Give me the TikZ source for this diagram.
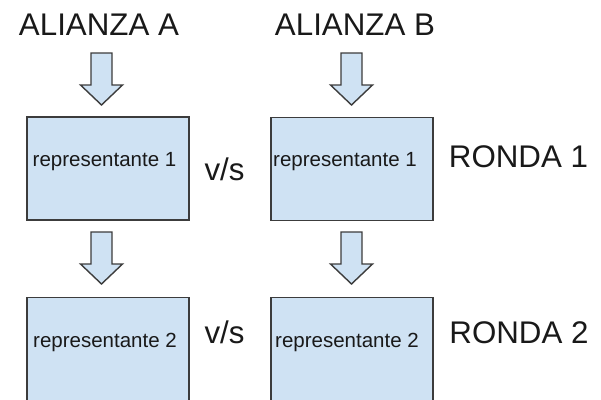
\documentclass[tikz,border=0pt]{standalone}
\usepackage{fontspec}
\setmainfont{Liberation Sans}
\definecolor{boxblue}{HTML}{CFE2F3}
\definecolor{edgegray}{HTML}{3C3C3C}
\tikzset{
  repbox/.style={draw=edgegray, fill=boxblue, line width=1.4pt, minimum width=162pt, minimum height=103pt, inner sep=0pt},
  reptext/.style={font=\fontsize{20.5}{24}\selectfont, text=black!90, inner sep=0pt},
  bigtext/.style={font=\fontsize{31.3}{36}\selectfont, text=black!90, inner sep=0pt, anchor=base},
  downarrow/.pic={
    \filldraw[draw=edgegray, fill=boxblue, line width=1.4pt, line join=miter]
      (-10.5,0) -- (10.5,0) -- (10.5,32) -- (21,32) -- (0,52) -- (-21,32) -- (-10.5,32) -- cycle;
  }
}
\begin{document}
\begin{tikzpicture}[x=1pt, y=-1pt]
	\useasboundingbox (0,0) rectangle (601,399);
	% titulos
	\node[bigtext] (alA) at (99,35) {ALIANZA A};
	\node[bigtext] (alB) at (355,35) {ALIANZA B};
	% flechas
	\pic at (101.5,53) {downarrow};
	\pic at (351.5,53) {downarrow};
	\pic at (101.5,232) {downarrow};
	\pic at (351.5,232) {downarrow};
	% ronda 1
	\node[repbox] (repA1) at (108,168.5) {};
	\node[repbox] (repB1) at (352,169) {};
	\node[reptext] (tA1) at (104.5,162) {representante 1};
	\node[reptext] (tB1) at (345,162) {representante 1};
	\node[bigtext] (vs1) at (224.5,180) {v/s};
	\node[bigtext] (ronda1) at (518.5,167) {RONDA 1};
	% ronda 2
	\node[repbox] (repA2) at (108,349) {};
	\node[repbox] (repB2) at (352,349) {};
	\node[reptext] (tA2) at (105,342) {representante 2};
	\node[reptext] (tB2) at (347,342) {representante 2};
	\node[bigtext] (vs2) at (224.5,343) {v/s};
	\node[bigtext] (ronda2) at (519,343) {RONDA 2};
\end{tikzpicture}
\end{document}
